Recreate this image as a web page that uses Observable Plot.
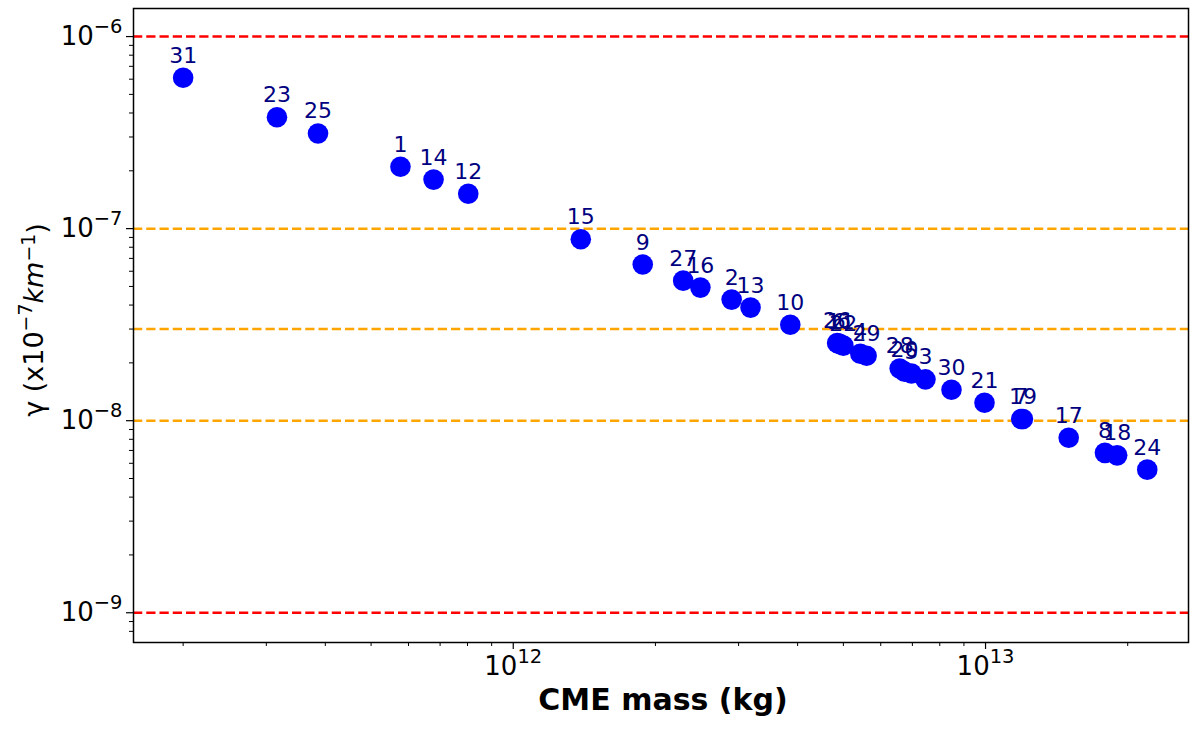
<!DOCTYPE html>
<html>
<head>
<meta charset="utf-8">
<script src="https://cdn.jsdelivr.net/npm/d3@7"></script>
<script src="https://cdn.jsdelivr.net/npm/@observablehq/plot@0.6"></script>
<style>
  body { margin: 0; background: #fff; }
  #plot-region svg { display: block; }
</style>
</head>
<body>
<div id="plot-region"></div>
<script>
// CME event numbers, masses (kg) and gamma (km^-1)
const ids = [31, 23, 25, 1, 14, 12, 15, 9, 27, 16, 2, 13, 10, 26, 6, 11, 22, 4, 29, 28, 20, 5, 3, 30, 21, 7, 19, 17, 8, 18, 24];
const mass = [2.0e11, 3.16e11, 3.86e11, 5.77e11, 6.78e11, 8.03e11, 1.39e12, 1.88e12, 2.29e12, 2.49e12, 2.9e12, 3.18e12, 3.86e12,
              4.85e12, 4.89e12, 4.93e12, 5.0e12, 5.43e12, 5.6e12, 6.58e12, 6.74e12, 6.97e12, 7.46e12, 8.47e12, 9.95e12,
              1.19e13, 1.2e13, 1.5e13, 1.79e13, 1.9e13, 2.2e13];
const gamma = [6.1e-7, 3.8e-7, 3.13e-7, 2.1e-7, 1.8e-7, 1.52e-7, 8.8e-8, 6.5e-8, 5.36e-8, 4.93e-8, 4.27e-8, 3.88e-8, 3.16e-8,
               2.54e-8, 2.52e-8, 2.5e-8, 2.46e-8, 2.23e-8, 2.18e-8, 1.87e-8, 1.8e-8, 1.76e-8, 1.64e-8, 1.45e-8, 1.24e-8,
               1.02e-8, 1.02e-8, 8.15e-9, 6.8e-9, 6.6e-9, 5.56e-9];

const redLevels = [1e-6, 1e-9];
const orangeLevels = [1e-7, 3e-8, 1e-8];

const xMajor = [1e12, 1e13];
const xMinor = [2e11, 3e11, 4e11, 5e11, 6e11, 7e11, 8e11, 9e11, 2e12, 3e12, 4e12, 5e12, 6e12, 7e12, 8e12, 9e12, 2e13];
const yMajor = [1e-9, 1e-8, 1e-7, 1e-6];
const yMinor = [8e-10, 9e-10];
for (let d = -9; d <= -7; d++) for (let k = 2; k <= 9; k++) yMinor.push(k * Math.pow(10, d));

const points = ids.map((id, i) => ({ id: id, mass: mass[i], gamma: gamma[i] }));

const sup = e => "10^" + e;

let chart = Plot.plot({
    width: 1200,
    height: 731,
    marginLeft: 133,
    marginRight: 12,
    marginTop: 8,
    marginBottom: 89,
    style: { fontFamily: "DejaVu Sans", fontSize: "26px", color: "black", background: "white" },
    x: { type: "log", domain: [1.57e11, 2.69e13] },
    y: { type: "log", domain: [7.0e-10, 1.4e-6] },
    marks: [
        Plot.ruleY(redLevels, { stroke: "red", strokeWidth: 2.5, strokeDasharray: "9.25,4" }),
        Plot.ruleY(orangeLevels, { stroke: "orange", strokeWidth: 2.5, strokeDasharray: "9.25,4" }),
        Plot.axisX(xMinor, { tickSize: 4, tickFormat: () => "", label: null, strokeWidth: 1 }),
        Plot.axisX(xMajor, { tickSize: 7, tickPadding: 7, label: null, strokeWidth: 1.2,
            tickFormat: d => sup(Math.round(Math.log10(d))) }),
        Plot.axisY(yMinor, { tickSize: 4, tickFormat: () => "", label: null, strokeWidth: 1 }),
        Plot.axisY(yMajor, { tickSize: 7, tickPadding: 4, label: null, strokeWidth: 1.2,
            tickFormat: d => sup(Math.round(Math.log10(d))) }),
        Plot.dot(points, { x: "mass", y: "gamma", r: 10.3, fill: "blue", stroke: null }),
        Plot.text(points, { x: "mass", y: "gamma", text: d => String(d.id), dy: -15, lineAnchor: "bottom",
            fill: "#000080", fontSize: 22, fontFamily: "DejaVu Sans" }),
        Plot.frame({ stroke: "black", strokeWidth: 1.5 })
    ]
});

// turn "10^n" tick labels into real superscripts
chart.querySelectorAll("text").forEach(t => {
    const m = /^10\^(-?\d+)$/.exec(t.textContent);
    if (m) {
        const e = m[1].replace("-", "\u2212");
        t.style.fontSize = "26px";
        t.style.fontFamily = "DejaVu Sans";
        t.innerHTML = `10<tspan dy="-0.6em" font-size="0.75em">${e}</tspan>`;
    }
});

const svg = d3.select(chart);

svg.append("text")
    .attr("x", 663).attr("y", 710)
    .attr("text-anchor", "middle")
    .attr("font-family", "DejaVu Sans")
    .attr("font-weight", "bold")
    .attr("font-size", 30)
    .text("CME mass (kg)");

const ylab = svg.append("text")
    .attr("transform", "translate(43,320) rotate(-90)")
    .attr("text-anchor", "middle")
    .attr("font-family", "DejaVu Sans")
    .attr("font-size", 27);
ylab.html(`γ (x10<tspan dy="-0.6em" font-size="0.7em">\u22127</tspan><tspan dy="0.42em" font-style="italic">km</tspan><tspan dy="-0.42em" font-size="0.7em">\u22121</tspan><tspan dy="0.42em">)</tspan>`);

let plot = document.getElementById("plot-region");
plot.innerHTML = "";
plot.append(chart);
</script>
</body>
</html>
